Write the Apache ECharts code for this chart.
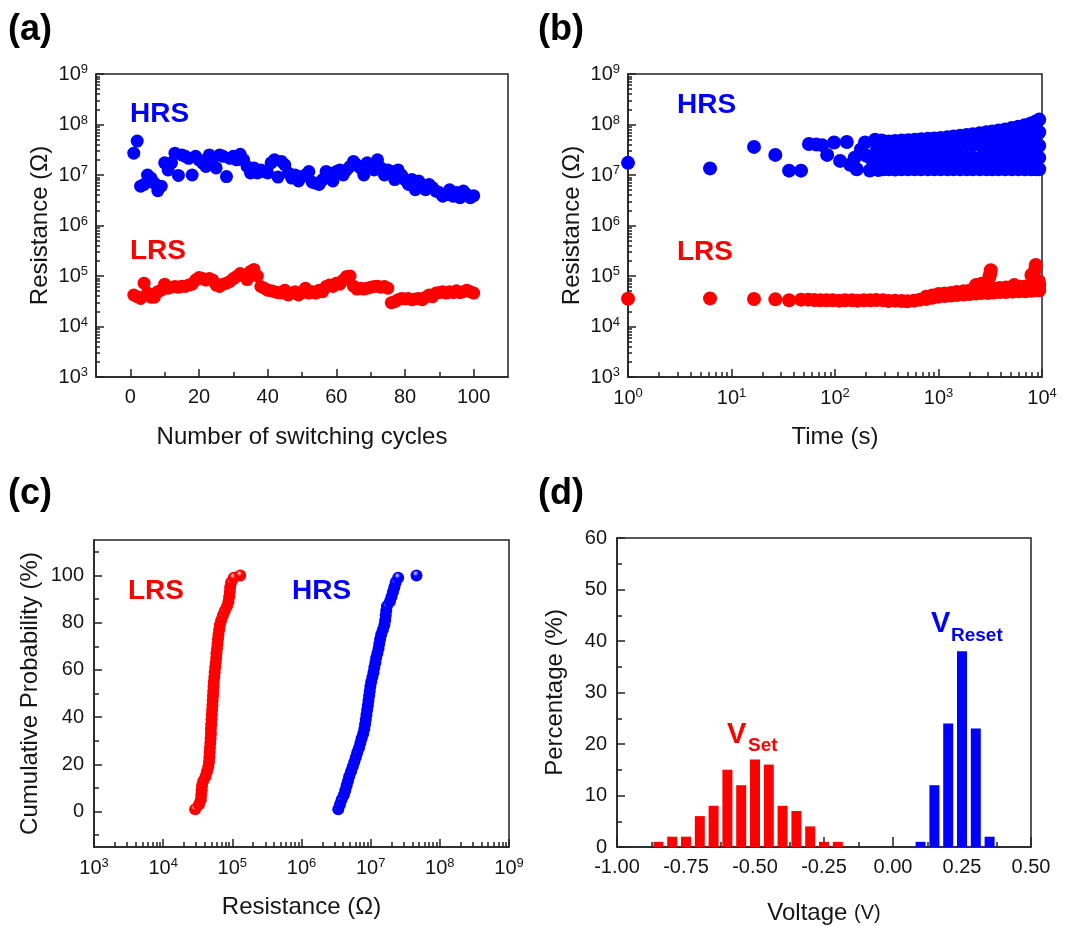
<!DOCTYPE html>
<html><head><meta charset="utf-8">
<script src="https://cdn.jsdelivr.net/npm/echarts@6/dist/echarts.min.js"></script>
<style>html,body{margin:0;padding:0;background:#fff}#c{width:1073px;height:926px}</style>
</head><body><div id="c"></div><script>
// ---------- (a) endurance: resistance per switching cycle (cycle = index+1)
const hrsCycle = [
2.7e7,4.7e7,6.0e6,6.5e6,1.0e7,8.7e6,6.9e6,4.9e6,6.0e6,1.74e7,
1.26e7,1.74e7,2.7e7,9.8e6,2.5e7,2.34e7,2.14e7,1.0e7,2.34e7,2.0e7,
1.74e7,1.48e7,2.5e7,2.14e7,1.38e7,2.5e7,2.34e7,9.3e6,2.14e7,2.34e7,
2.0e7,2.57e7,2.0e7,1.48e7,1.1e7,1.38e7,1.1e7,1.26e7,1.17e7,1.1e7,
1.74e7,2.0e7,9.1e6,1.86e7,1.58e7,1.1e7,8.7e6,1.0e7,7.6e6,9.3e6,
1.0e7,1.17e7,7.2e6,6.9e6,6.5e6,8.1e6,1.17e7,1.1e7,7.6e6,1.17e7,
1.26e7,1.0e7,1.26e7,1.48e7,1.86e7,1.58e7,1.38e7,1.0e7,1.74e7,1.48e7,
1.26e7,2.0e7,1.38e7,1.0e7,1.26e7,1.17e7,8.1e6,1.26e7,1.0e7,8.1e6,
6.5e6,8.1e6,5.1e6,7.6e6,6.0e6,5.1e6,6.5e6,5.6e6,4.8e6,4.5e6,
3.8e6,4.1e6,5.1e6,3.8e6,4.5e6,3.55e6,4.8e6,4.1e6,3.55e6,3.9e6];
const lrsCycle = [
4.2e4,3.9e4,3.6e4,7.2e4,4.6e4,3.8e4,3.8e4,4.9e4,5.25e4,6.9e4,
5.75e4,6.0e4,6.2e4,6.0e4,6.3e4,6.2e4,6.6e4,6.9e4,8.3e4,9.3e4,
8.9e4,8.3e4,8.9e4,8.3e4,6.6e4,6.2e4,6.9e4,7.2e4,7.8e4,8.9e4,
9.8e4,1.12e5,1.05e5,8.5e4,1.23e5,1.35e5,1.0e5,6.2e4,5.75e4,5.25e4,
5.1e4,4.9e4,4.7e4,4.6e4,5.25e4,4.2e4,4.6e4,4.9e4,4.2e4,4.7e4,
5.75e4,4.6e4,4.9e4,4.6e4,5.25e4,4.9e4,6.2e4,6.6e4,6.2e4,7.2e4,
6.9e4,8.3e4,9.8e4,1.0e5,6.3e4,5.5e4,5.75e4,5.5e4,5.75e4,6.0e4,
6.2e4,6.3e4,6.0e4,6.2e4,5.75e4,2.95e4,3.1e4,3.4e4,3.6e4,3.5e4,
3.6e4,3.4e4,3.5e4,3.6e4,3.4e4,3.8e4,4.2e4,3.9e4,4.6e4,4.7e4,
4.9e4,4.6e4,4.9e4,4.7e4,5.1e4,4.7e4,4.9e4,5.25e4,4.9e4,4.6e4];

// ---------- (b) retention: [time (s), resistance]
const retHrsSparse = [[1,1.74e7],[6.2,1.35e7],[16.5,3.6e7],[26.5,2.5e7],[36,1.22e7],[47,1.22e7],
[56,4.1e7],[66,4.0e7],[75,3.9e7],[84,2.5e7],[98,4.4e7],[112,1.9e7],[130,4.5e7],[140,1.6e7],
[155,2.2e7],[162,1.3e7],[178,3.2e7],[195,4.4e7],[202,2.4e7],[217,1.23e7],[232,1.9e7],
[244,5.0e7],[255,3.3e7],[262,1.25e7],[275,2.2e7],[280,4.8e7]];
const retHrsDense = [ // [time, [resistances at that time]]
[290,[1.3e7,2.2e7,3.5e7,4.7e7]],[330,[1.3e7,2.1e7,3.4e7,4.6e7]],[380,[1.28e7,2.2e7,3.5e7,4.7e7]],
[440,[1.3e7,2.2e7,3.5e7,4.8e7]],[510,[1.3e7,2.2e7,3.6e7,4.9e7]],[590,[1.3e7,2.2e7,3.6e7,5.0e7]],
[680,[1.3e7,2.2e7,3.6e7,5.1e7]],[790,[1.3e7,2.2e7,3.6e7,5.2e7]],[910,[1.3e7,2.2e7,3.7e7,5.3e7]],
[1050,[1.3e7,2.2e7,3.7e7,5.4e7]],[1220,[1.3e7,2.2e7,3.7e7,5.6e7]],[1400,[1.3e7,2.2e7,3.8e7,5.8e7]],
[1620,[1.3e7,2.2e7,3.8e7,6.0e7]],[1870,[1.3e7,2.2e7,3.9e7,6.2e7]],[2150,[1.3e7,2.2e7,3.9e7,6.4e7]],
[2500,[1.3e7,2.2e7,4.0e7,6.7e7]],[2900,[1.3e7,2.2e7,3.6e7,5.3e7,7.0e7]],[3300,[1.3e7,2.2e7,3.6e7,5.5e7,7.3e7]],
[3800,[1.3e7,2.2e7,3.6e7,5.6e7,7.6e7]],[4400,[1.3e7,2.2e7,3.7e7,5.8e7,8.0e7]],[5100,[1.3e7,2.2e7,3.7e7,6.0e7,8.5e7]],
[5900,[1.3e7,2.2e7,3.7e7,6.2e7,9.0e7]],[6800,[1.3e7,2.2e7,3.7e7,6.4e7,9.7e7]],[7800,[1.3e7,2.2e7,3.7e7,6.6e7,1.05e8]],
[8700,[1.3e7,2.2e7,3.8e7,6.8e7,1.15e8]],[9400,[1.3e7,2.2e7,3.8e7,7.0e7,1.25e8]]];
const retLrs = [[1,3.55e4],[6.2,3.6e4],[16.5,3.5e4],[26.5,3.45e4],[36,3.3e4],[47,3.4e4],
[55,3.4e4],[63,3.35e4],[72,3.3e4],[83,3.3e4],[95,3.3e4],[110,3.25e4],[125,3.3e4],[145,3.3e4],
[165,3.25e4],[190,3.3e4],[220,3.3e4],[250,3.35e4],[290,3.3e4],[330,3.2e4],[380,3.25e4],[440,3.2e4],
[500,3.15e4],[580,3.25e4],[660,3.4e4],[760,3.5e4],[870,3.7e4],[1000,3.9e4],[1150,4.0e4],[1320,4.1e4],
[1500,4.2e4],[1750,4.3e4],[2000,4.4e4],[2300,4.5e4],[2600,4.6e4],[3000,4.6e4],[3400,4.7e4],[3900,4.8e4],
[4500,4.8e4],[5200,4.9e4],[6000,5.0e4],[6900,5.0e4],[7900,5.1e4],[8800,5.2e4],[9400,5.2e4],
[760,3.9e4],[870,4.1e4],[1000,4.4e4],[1150,4.5e4],[1320,4.6e4],[1500,4.8e4],[1750,5.0e4],[2000,5.1e4],
[2300,5.3e4],[2600,5.4e4],[3000,5.5e4],[3400,5.6e4],[3900,5.8e4],[4500,5.9e4],[5200,6.0e4],[6000,6.1e4],
[6900,6.2e4],[7900,6.4e4],[8800,6.5e4],[9400,6.6e4],
[2300,6.6e4],[2600,7.0e4],[3100,9.5e4],[3150,1.1e5],[3200,1.3e5],[5400,6.6e4],[7900,1.05e5],
[8600,1.35e5],[8700,1.65e5],[9300,8.0e4]];

// ---------- (c) cumulative probability
const cumPct = [1,3,5,7,9,11,13,15,17,19,21,23,25,27,29,31,33,35,37,39,41,43,45,47,49,51,53,55,57,59,
61,63,65,67,69,71,73,75,77,79,81,83,85,87,89,91,93,95,97,99,100];
const lrsSorted = [2.9e4,3.3e4,3.5e4,3.55e4,3.6e4,3.65e4,3.8e4,4.1e4,4.3e4,4.5e4,
4.6e4,4.65e4,4.7e4,4.75e4,4.8e4,4.85e4,4.9e4,4.9e4,4.95e4,5.0e4,
5.05e4,5.1e4,5.15e4,5.2e4,5.25e4,5.3e4,5.35e4,5.4e4,5.5e4,5.55e4,
5.65e4,5.75e4,5.85e4,5.9e4,6.0e4,6.1e4,6.2e4,6.3e4,6.45e4,6.6e4,
6.9e4,7.3e4,7.8e4,8.4e4,8.8e4,9.0e4,9.2e4,9.3e4,9.6e4,1.05e5,1.3e5];
const hrsSorted = [3.4e6,3.6e6,3.8e6,4.1e6,4.3e6,4.5e6,4.7e6,4.9e6,5.2e6,5.5e6,
5.8e6,6.1e6,6.4e6,6.8e6,7.1e6,7.4e6,7.8e6,8.1e6,8.3e6,8.5e6,
8.7e6,8.9e6,9.1e6,9.3e6,9.5e6,9.7e6,9.9e6,1.02e7,1.06e7,1.1e7,
1.13e7,1.17e7,1.2e7,1.25e7,1.3e7,1.33e7,1.37e7,1.42e7,1.5e7,1.58e7,
1.62e7,1.65e7,1.68e7,1.72e7,1.9e7,2.0e7,2.1e7,2.2e7,2.3e7,2.5e7,4.6e7];

// ---------- (d) voltage histograms
const setVoltage = [-0.85,-0.80,-0.75,-0.70,-0.65,-0.60,-0.55,-0.50,-0.45,-0.40,-0.35,-0.30,-0.25,-0.20];
const setPct = [1,2,2,6,8,15,12,17,16,8,7,4,1,1];
const resetVoltage = [0.10,0.15,0.20,0.25,0.30,0.35];
const resetPct = [1,12,24,38,23,2];

// ---------- tick label sets
const cycleTicks = [0,20,40,60,80,100];
const cycleMinorTicks = [10,30,50,70,90];
const probTicks = [0,20,40,60,80,100];
const probMinorTicks = [-10,10,30,50,70,90,110];

// =========================================================
const FONT = "'Liberation Sans', Arial, sans-serif";
const RED = '#ff0000', BLUE = '#0000ff', INK = '#151515';
const lineStyle = {color: '#222', width: 1.5};
const rich = {
  b: {fontSize: 20, fontFamily: FONT, color: INK},
  s: {fontSize: 13, fontFamily: FONT, color: INK, padding: [0, 0, 9, 0]}
};
const logLabel = v => '{b|10}{s|' + Math.round(Math.log10(v)) + '}';
const nameStyle = {fontSize: 24, fontFamily: FONT, color: INK};
const labelStyle = {fontSize: 20, fontFamily: FONT, color: INK};

function minorLog(a, b) {
  const out = [];
  for (let d = a; d < b; d++) for (let k = 2; k <= 9; k++) out.push(d + Math.log10(k));
  return out;
}
function overlay(gridIndex, min, max, position, ticks, len) {
  return {type: 'value', gridIndex, min, max, position, offset: 0,
    axisLine: {show: false, onZero: false}, axisLabel: {show: false}, splitLine: {show: false},
    axisTick: {show: true, inside: true, length: len, customValues: ticks, lineStyle}};
}
function baseAxis(o) {
  return Object.assign({
    axisLine: {show: true, onZero: false, lineStyle},
    splitLine: {show: false},
    nameLocation: 'middle', nameTextStyle: nameStyle
  }, o);
}
function logAxis(gridIndex, min, max, position, name, nameGap, margin) {
  return baseAxis({type: 'log', logBase: 10, gridIndex, min, max, position, splitNumber: Math.round(Math.log10(max / min)),
    axisTick: {show: true, inside: true, length: 8, lineStyle},
    axisLabel: {formatter: logLabel, rich, margin, showMinLabel: true, showMaxLabel: true},
    name, nameGap});
}
function sphere(base, light) {
  return {type: 'radial', x: 0.42, y: 0.32, r: 0.62,
    colorStops: [{offset: 0, color: light}, {offset: 0.4, color: base}, {offset: 1, color: base}]};
}

const grids = [
  {left: 96, top: 74, width: 412, height: 303},
  {left: 628, top: 74, width: 414, height: 303},
  {left: 94, top: 540, width: 415, height: 307},
  {left: 617, top: 538, width: 414, height: 309}
].map(g => Object.assign(g, {show: true, borderColor: '#222', borderWidth: 1.5, backgroundColor: 'transparent'}));

const xAxis = [
  baseAxis({type: 'value', gridIndex: 0, min: -10, max: 110, position: 'bottom',
    axisTick: {show: true, inside: true, length: 8, customValues: cycleTicks, lineStyle},
    axisLabel: Object.assign({customValues: cycleTicks, margin: 10}, labelStyle),
    name: 'Number of switching cycles', nameGap: 48}),
  overlay(0, -10, 110, 'bottom', cycleMinorTicks, 5),
  logAxis(1, 1, 1e4, 'bottom', 'Time (s)', 48, 10),
  overlay(1, 0, 4, 'bottom', minorLog(0, 4), 5),
  logAxis(2, 1e3, 1e9, 'bottom', 'Resistance (Ω)', 48, 10),
  overlay(2, 3, 9, 'bottom', minorLog(3, 9), 5),
  baseAxis({type: 'value', gridIndex: 3, min: -1, max: 0.5, interval: 0.25, position: 'bottom',
    axisTick: {show: true, inside: true, length: 10, lineStyle},
    minorTick: {show: true, splitNumber: 2, length: 5, lineStyle},
    axisLabel: Object.assign({formatter: v => v.toFixed(2), margin: 10, showMinLabel: true, showMaxLabel: true}, labelStyle),
    name: '{a|Voltage }{b|(V)}', nameGap: 54,
    nameTextStyle: {rich: {a: nameStyle, b: {fontSize: 20, fontFamily: FONT, color: INK}}}})
];
const yAxis = [
  logAxis(0, 1e3, 1e9, 'left', 'Resistance (Ω)', 44, 8),
  overlay(0, 3, 9, 'left', minorLog(3, 9), 4),
  logAxis(1, 1e3, 1e9, 'left', 'Resistance (Ω)', 44, 8),
  overlay(1, 3, 9, 'left', minorLog(3, 9), 4),
  baseAxis({type: 'value', gridIndex: 2, min: -15, max: 115, position: 'left',
    axisTick: {show: true, inside: true, length: 8, customValues: probTicks, lineStyle},
    axisLabel: Object.assign({customValues: probTicks, margin: 10}, labelStyle),
    name: 'Cumulative Probability (%)', nameGap: 52}),
  overlay(2, -15, 115, 'left', probMinorTicks, 5),
  baseAxis({type: 'value', gridIndex: 3, min: 0, max: 60, interval: 10, position: 'left',
    axisTick: {show: true, inside: true, length: 8, lineStyle},
    minorTick: {show: true, splitNumber: 2, length: 5, lineStyle},
    axisLabel: Object.assign({margin: 10}, labelStyle),
    name: 'Percentage (%)', nameGap: 50})
];

const hrsDensePts = [];
retHrsDense.forEach(([t, vals]) => vals.forEach(v => hrsDensePts.push([t, v])));

const dot = c => ({color: c, opacity: 1});
const series = [
  {type: 'scatter', xAxisIndex: 0, yAxisIndex: 0, symbolSize: 13, itemStyle: dot(BLUE),
   data: hrsCycle.map((v, i) => [i + 1, v])},
  {type: 'scatter', xAxisIndex: 0, yAxisIndex: 0, symbolSize: 13, itemStyle: dot(RED),
   data: lrsCycle.map((v, i) => [i + 1, v])},
  {type: 'scatter', xAxisIndex: 2, yAxisIndex: 2, symbolSize: 14, itemStyle: dot(BLUE),
   data: retHrsSparse.concat(hrsDensePts)},
  {type: 'scatter', xAxisIndex: 2, yAxisIndex: 2, symbolSize: 14, itemStyle: dot(RED),
   data: retLrs},
  {type: 'scatter', xAxisIndex: 4, yAxisIndex: 4, symbolSize: 12, itemStyle: dot(sphere(RED, '#ffd6d6')),
   data: cumPct.map((p, i) => [lrsSorted[i], p])},
  {type: 'scatter', xAxisIndex: 4, yAxisIndex: 4, symbolSize: 12, itemStyle: dot(sphere(BLUE, '#d6d6ff')),
   data: cumPct.map((p, i) => [hrsSorted[i], p])},
  {type: 'bar', xAxisIndex: 6, yAxisIndex: 6, barWidth: 10, barGap: '-100%', itemStyle: {color: RED},
   data: setVoltage.map((v, i) => [v, setPct[i]])},
  {type: 'bar', xAxisIndex: 6, yAxisIndex: 6, barWidth: 10, barGap: '-100%', itemStyle: {color: BLUE},
   data: resetVoltage.map((v, i) => [v, resetPct[i]])}
];

const txt = (x, y, text, size, color) => ({type: 'text', x, y,
  style: {text, fill: color, font: 'bold ' + size + 'px ' + FONT, align: 'left', verticalAlign: 'top'}});
const graphic = [
  txt(8, 12, '(a)', 36, '#000'), txt(538, 12, '(b)', 36, '#000'),
  txt(8, 476, '(c)', 36, '#000'), txt(538, 476, '(d)', 36, '#000'),
  txt(130, 100, 'HRS', 28, BLUE), txt(130, 237, 'LRS', 28, RED),
  txt(677, 91, 'HRS', 28, BLUE), txt(677, 238, 'LRS', 28, RED),
  txt(128, 577, 'LRS', 28, RED), txt(292, 577, 'HRS', 28, BLUE),
  txt(727, 720, 'V', 29, RED), txt(748, 736, 'Set', 19, RED),
  txt(931, 609, 'V', 29, BLUE), txt(951, 626, 'Reset', 19, BLUE)
];

const chart = echarts.init(document.getElementById('c'), null, {renderer: 'canvas'});
chart.setOption({animation: false, backgroundColor: '#fff', grid: grids, xAxis, yAxis, series, graphic});
</script></body></html>
